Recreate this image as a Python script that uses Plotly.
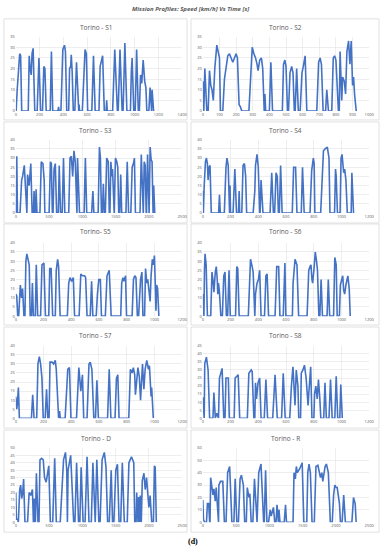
import plotly.graph_objects as go

# ---------------- data (time [s], speed [km/h]) ----------------
S1 = [(0,0),(3,0),(12,10),(22,19),(33,27),(41,26),(50,0),(105,0),(113,26),(121,20),(130,17),(137,27),(146,29.5),(160,0),
      (180,0),(195,25),(209,0),(225,0),(236,21),(245,20),(256,0),(290,0),(300,28),(311,0),(355,0),(360,2),(365,0),
      (380,0),(388,13),(396,29),(410,31),(418,28),(429,0),(445,0),(453,20),(462,21),(467,26.5),(475,18),(484,0),
      (497,0),(511,23),(525,0),(530,0),(533,3),(537,0),(560,0),(583,29),(594,27),(605,0),(640,0),(654,26),(668,0),
      (700,0),(710,21),(720,23),(731,26),(745,0),(760,0),(765,5),(770,0),(815,0),(833,29),(855,0),(862,0),(877,29),(895,0),
      (903,0),(918,32),(935,0),(965,0),(972,18),(979,25),(993,0),(1005,0),(1017,29),(1031,0),(1040,0),(1050,17),(1060,13),
      (1072,24),(1085,14),(1095,11),(1103,0),(1120,0),(1130,11),(1138,0),(1143,0),(1147,10),(1160,0)]

S2 = [(0,14),(6,0),(12,20),(20,5),(24,0),(32,0),(40,19),(48,12),(55,10),(63,5),(72,20),(84,31),(92,28),(100,25),(106,0),
      (120,0),(130,15),(140,22),(150,26),(160,27),(170,25),(180,23),(190,25),(200,27),(208,25),(218,3),(226,2),(234,0),
      (277,0),(287,19),(297,30),(307,27),(317,25),(326,22),(332,19),(342,24),(352,25),(360,20),(366,0),(369,0),(373,8),(378,0),
      (400,0),(409,23),(419,0),(478,0),(485,22),(493,24),(500,21),(509,0),(515,0),(524,18),(534,21),(542,18),(550,0),
      (555,0),(564,20),(574,0),(585,0),(596,18),(604,21),(615,26),(625,0),(685,0),(696,23),(705,25),(713,22),(723,0),
      (738,0),(745,10),(755,0),(775,0),(784,25),(792,26),(800,24),(810,5),(815,0),(820,0),(825,28),(835,5),(840,16),
      (850,14),(858,8),(866,28),(876,33),(884,22),(892,33),(900,12),(906,16),(912,8),(922,0)]

S3 = [(0,0),(8,30),(15,31),(25,0),(64,0),(88,18),(103,20),(128,26),(142,13),(157,0),(167,0),(177,21),(201,15),(226,27),(246,0),
      (265,0),(275,12),(290,0),(300,0),(305,13),(319,0),(363,0),(383,28),(408,27),(427,18),(437,0),(501,0),(521,28),(535,27),(550,0),
      (560,0),(575,24),(594,27),(614,0),(639,0),(653,26),(673,0),(698,0),(717,30),(737,0),(796,0),(815,30),(835,31),(855,20),
      (874,34),(894,28),(909,0),(919,0),(928,30),(943,18),(958,0),(1027,0),(1046,30),(1066,0),(1140,0),(1159,12),(1174,0),
      (1238,0),(1257,36),(1272,30),(1287,0),(1302,0),(1316,16),(1331,0),(1346,0),(1366,30),(1390,28),(1405,0),
      (1415,0),(1429,28),(1444,20),(1454,24),(1469,0),(1479,0),(1498,30),(1518,28),(1533,25),(1547,0),(1562,0),(1577,21),(1592,0),
      (1655,0),(1675,28),(1695,0),(1729,0),(1749,25),(1768,27),(1783,30),(1798,0),(1867,0),(1886,32),(1906,0),
      (1916,0),(1930,28),(1945,26),(1960,0),(1965,0),(1980,32),(1994,0),(2004,0),(2019,36),(2034,29),(2048,28),(2058,0),
      (2063,0),(2073,15),(2088,0)]

S4 = [(0,12),(4,0),(10,15),(19,28),(26,30),(33,27),(38,18),(45,25),(52,26),(61,0),(114,0),(120,10),(126,0),
      (155,0),(167,25),(174,30),(183,26),(191,0),(193,0),(196,15),(200,0),(218,0),(231,24),(243,0),(257,0),(262,12),(266,0),
      (281,0),(290,26),(300,27),(309,20),(316,0),(363,0),(375,12),(380,26),(391,32),(400,25),(410,0),(413,0),(420,18),(434,0),
      (485,0),(497,22),(509,0),(518,0),(528,22),(537,20),(545,0),(552,0),(561,26),(572,0),(645,0),(655,25),(669,25),(679,0),
      (710,0),(719,25),(731,0),(773,0),(785,23),(797,30),(803,27),(808,0),(850,0),(863,28),(870,34),(882,35),(898,36),(910,30),(917,0),
      (950,0),(957,24),(962,20),(971,0),(990,0),(997,30),(1004,32),(1016,22),(1023,24),(1032,18),(1042,0),
      (1070,0),(1075,22),(1082,13),(1087,0)]

S5 = [(0,12),(7,11),(14,0),(21,0),(33,17),(42,10),(49,15),(59,0),(66,0),(73,30),(80,34),(90,30),(97,28),(104,0),
      (113,0),(120,18),(127,0),(141,0),(148,28),(158,0),(179,0),(189,28),(203,29),(214,0),(238,0),(245,26),(255,26),(266,0),
      (285,0),(292,25),(302,31),(309,27),(320,0),(372,0),(382,18),(391,21),(403,19),(415,21),(424,0),
      (457,0),(469,23),(481,22),(497,22),(504,21),(514,0),(537,0),(547,19),(556,0),(580,0),(589,12),(599,20),(610,20),(618,0),
      (646,0),(658,22),(674,25),(688,0),(757,0),(764,18),(773,21),(780,19),(792,22),(799,0),(839,0),(849,20),(858,22),(867,21),(877,0),
      (886,0),(900,20),(910,24),(917,0),(929,0),(936,26),(945,18),(952,20),(962,13),(969,8),(976,22),(985,31),(992,28),
      (1000,33),(1006,18),(1011,3),(1016,17),(1023,15),(1032,0)]

S6 = [(0,12),(4,0),(8,0),(12,25),(16,34),(24,28),(33,0),(57,0),(66,24),(73,20),(80,13),(90,24),(97,27),(104,20),(108,12),
      (113,18),(120,13),(130,0),(141,0),(151,22),(160,24),(170,0),(179,0),(189,25),(198,0),(236,0),(245,27),(252,26),(262,0),
      (328,0),(344,31),(356,27),(363,24),(375,0),(380,12),(391,18),(401,20),(410,25),(420,0),(445,0),(455,22),(464,23),(474,0),
      (521,0),(533,27),(547,27),(556,0),(580,0),(592,29),(599,0),(646,0),(651,18),(665,31),(679,28),(691,0),
      (752,0),(764,25),(773,27),(780,28),(787,20),(792,18),(801,25),(811,35),(820,30),(827,25),(837,0),(844,0),(853,20),(863,0),
      (896,0),(905,20),(915,0),(943,0),(952,32),(962,28),(969,0),(985,0),(992,17),(999,20),(1009,22),(1016,14),(1023,12),
      (1032,17),(1046,22),(1056,15),(1063,0)]

S7 = [(0,12),(7,5),(12,8),(19,17),(26,0),(113,0),(122,13),(132,0),(151,0),(160,30),(170,34),(179,30),(189,22),(198,0),
      (212,0),(222,16),(231,0),(240,0),(247,31),(262,31),(273,30),(285,32),(292,27),(304,0),(309,0),(316,4),(321,0),
      (356,0),(375,27),(387,28),(398,0),(438,0),(455,28),(469,15),(481,24),(490,0),(514,0),(528,30),(537,31),(549,27),(563,0),
      (575,0),(585,21),(596,0),(662,0),(674,27),(686,0),(716,0),(726,22),(736,24),(745,0),(815,0),(827,27),(839,25),(848,28),
      (858,24),(863,13),(881,28),(891,23),(900,10),(914,30),(924,16),(933,27),(945,32),(957,27),(964,29),(976,12),(980,17),(992,0)]

S8 = [(0,13),(5,0),(10,0),(14,34),(26,38),(38,30),(49,0),(73,0),(80,16),(90,0),(101,3),(113,0),(120,25),(139,31),(151,0),
      (160,0),(167,25),(184,25),(191,0),(226,0),(233,25),(245,26),(255,27),(266,0),(321,0),(332,28),(349,30),(356,29),(368,0),
      (375,0),(380,22),(387,12),(398,22),(410,25),(420,0),(443,0),(455,24),(467,0),(504,0),(521,27),(537,0),(568,0),(580,28),(594,0),
      (627,0),(639,20),(650,32),(665,8),(674,30),(686,20),(692,0),(705,0),(710,28),(722,30),(733,33),(745,25),(750,18),(759,8),
      (764,15),(778,32),(787,0),(801,0),(806,15),(815,20),(825,12),(834,24),(844,12),(851,0),(872,0),(881,22),(891,0),
      (910,0),(921,24),(933,0),(952,0),(962,26),(973,0),(988,0),(995,21),(1006,0)]

D = [(0,20),(10,2),(29,2),(39,0),(59,22),(74,25),(88,16),(103,19),(118,29),(138,0),(177,0),(201,20),(226,18),(250,22),(265,0),
     (275,0),(280,16),(290,0),(295,0),(310,33),(334,0),(349,0),(364,42),(388,43),(413,42),(432,30),(457,27),(496,38),(520,0),
     (555,0),(585,43),(609,0),(668,0),(718,42),(747,47),(766,35),(776,0),(786,35),(825,45),(850,20),(870,0),
     (889,0),(914,40),(943,0),(963,0),(982,37),(1012,0),(1041,0),(1071,44),(1100,0),(1135,0),(1159,40),(1184,0),
     (1194,0),(1218,42),(1248,0),(1267,0),(1297,42),(1331,47),(1356,37),(1380,0),(1405,0),(1434,35),(1454,0),
     (1474,0),(1503,35),(1528,39),(1552,0),(1577,0),(1601,40),(1631,0),(1675,0),(1700,40),(1739,44),(1773,40),(1788,0),
     (1808,0),(1817,20),(1837,0),(1847,17),(1862,0),(1871,18),(1886,0),(1901,28),(1926,33),(1945,22),(1965,30),(1985,18),
     (2000,10),(2019,18),(2043,0),(2068,0),(2083,38),(2095,37),(2112,0)]

R = [(0,18),(10,2),(29,0),(55,0),(69,15),(88,15),(103,0),(108,0),(118,36),(138,27),(152,22),(167,27),(187,17),(201,28),(226,0),
     (236,0),(241,30),(265,33),(300,33),(324,0),(349,0),(373,40),(403,45),(437,0),(467,0),(486,35),(511,0),
     (535,0),(560,35),(580,38),(609,30),(629,0),(653,0),(668,28),(693,20),(707,23),(727,0),(752,0),(776,35),(806,0),
     (815,0),(840,40),(860,45),(874,47),(914,0),(923,0),(943,42),(963,0),(987,0),(1012,10),(1027,5),(1061,12),(1081,0),
     (1100,0),(1115,14),(1135,0),(1145,10),(1159,0),(1223,0),(1243,14),(1257,0),
     (1356,0),(1370,40),(1390,35),(1405,45),(1420,40),(1454,43),(1493,48),(1518,0),(1562,0),(1577,40),(1596,47),(1616,40),(1641,0),
     (1675,0),(1700,45),(1729,46),(1749,40),(1768,36),(1788,40),(1803,33),(1837,45),(1857,47),(1886,40),(1906,15),(1916,0),
     (1945,0),(1965,22),(1984,30),(2004,28),(2019,28),(2034,20),(2053,15),(2068,0),(2093,0),(2117,22),(2142,0),
     (2240,0),(2264,20),(2289,15),(2304,0)]

titles = ["Torino - S1", "Torino - S2", "Torino - S3", "Torino - S4", "Torino- S5",
          "Torino - S6", "Torino - S7", "Torino - S8", "Torino - D", "Torino - R"]
series = [S1, S2, S3, S4, S5, S6, S7, S8, D, R]
x_max = [1400, 1000, 2500, 1200, 1200, 1200, 1200, 1200, 2500, 2500]
x_step = [200, 100, 500, 200, 200, 200, 200, 200, 500, 500]
y_max = [35, 35, 40, 40, 40, 40, 40, 45, 50, 60]
y_step = [5, 5, 5, 5, 5, 5, 5, 5, 5, 10]

# ---------------- layout ----------------
W, H = 387, 550
col_px = [(15, 184), (205, 374)]
row_px = [(34, 109), (138, 212), (242, 316), (346, 419), (449, 524)]
box_col = [(3, 189), (193, 384)]
box_row = [(16, 118), (120, 222), (223, 325), (327, 429), (431, 534)]
title_y = [25, 129, 231, 336, 439]

LINE = "#4472C4"
GRID = "#e3e3e3"
BOX = "#d9d9d9"
TXT = "#595959"
FONT = "Open Sans"

fig = go.Figure()
layout = dict(width=W, height=H, margin=dict(l=0, r=0, t=0, b=0),
              paper_bgcolor="white", plot_bgcolor="white", showlegend=False)
shapes, annotations = [], []

for i, (name, data) in enumerate(zip(titles, series)):
    r, c = divmod(i, 2)
    n = i + 1
    xs = [p[0] for p in data]
    ys = [p[1] for p in data]
    xa = "x" if n == 1 else f"x{n}"
    ya = "y" if n == 1 else f"y{n}"
    fig.add_trace(go.Scatter(x=xs, y=ys, mode="lines", xaxis=xa, yaxis=ya,
                             line=dict(color=LINE, width=1.6), hoverinfo="skip"))
    x0, x1 = col_px[c]
    y0, y1 = row_px[r]
    layout["xaxis" if n == 1 else f"xaxis{n}"] = dict(
        domain=[x0 / W, x1 / W], range=[0, x_max[i]], dtick=x_step[i], tick0=0,
        anchor=ya, showgrid=True, gridcolor=GRID, gridwidth=0.6, zeroline=False,
        showline=False, ticks="", tickfont=dict(size=4, color=TXT, family=FONT))
    layout["yaxis" if n == 1 else f"yaxis{n}"] = dict(
        domain=[1 - y1 / H, 1 - y0 / H], range=[0, y_max[i]], dtick=y_step[i], tick0=0,
        anchor=xa, showgrid=True, gridcolor=GRID, gridwidth=0.6, zeroline=False,
        showline=False, ticks="", tickfont=dict(size=4, color=TXT, family=FONT))
    bx0, bx1 = box_col[c]
    by0, by1 = box_row[r]
    shapes.append(dict(type="rect", xref="paper", yref="paper",
                       x0=bx0 / W, x1=bx1 / W, y0=1 - by1 / H, y1=1 - by0 / H,
                       line=dict(color=BOX, width=0.8), fillcolor="rgba(0,0,0,0)", layer="below"))
    annotations.append(dict(text=name, xref="paper", yref="paper",
                            x=(bx0 + bx1) / 2 / W, y=1 - title_y[r] / H,
                            xanchor="center", yanchor="middle", showarrow=False,
                            font=dict(size=6.5, color=TXT, family=FONT)))

annotations.append(dict(text="<b><i>Mission Profiles: Speed [km/h] Vs Time [s]</i></b>",
                        xref="paper", yref="paper", x=193 / W, y=1 - 6 / H,
                        xanchor="center", yanchor="middle", showarrow=False,
                        font=dict(size=6, color=TXT, family=FONT)))
annotations.append(dict(text="<b>(d)</b>", xref="paper", yref="paper", x=195 / W, y=1 - 543 / H,
                        xanchor="center", yanchor="middle", showarrow=False,
                        font=dict(size=8, color="#000000", family="Liberation Serif")))

layout["shapes"] = shapes
layout["annotations"] = annotations
fig.update_layout(**layout)
fig.write_html("out.html", config={"displayModeBar": False, "staticPlot": True},
               post_script="document.body.style.margin='0';document.body.style.overflow='hidden';")
